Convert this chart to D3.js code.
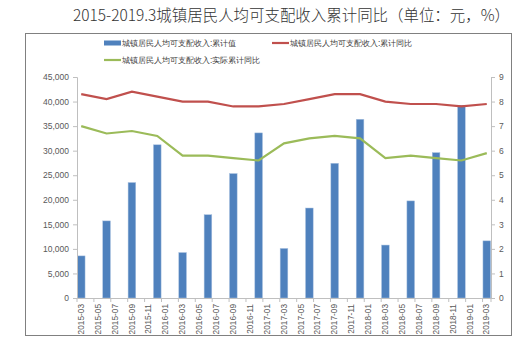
<!DOCTYPE html>
<html>
<head>
<meta charset="utf-8">
<script src="https://cdn.jsdelivr.net/npm/d3@7"></script>
<style>
body { margin: 0; background: #fff; }
text { font-family: "Liberation Sans", Arial, sans-serif; }
.cjk { font-family: "Noto Sans CJK SC", sans-serif; }
</style>
</head>
<body>
<div id="chart-area"></div>
<script>
// chart size
var width = 528,
	height = 362;

// quarters (month of each bar)
var quarters = ["2015-03","2015-06","2015-09","2015-12",
	"2016-03","2016-06","2016-09","2016-12",
	"2017-03","2017-06","2017-09","2017-12",
	"2018-03","2018-06","2018-09","2018-12",
	"2019-03"];
// 累计值 (元)
var cumValue = [8572, 15699, 23512, 31195, 9255, 16957, 25337, 33616,
	10096, 18322, 27430, 36396, 10781, 19770, 29599, 39251, 11633];
// 累计同比 (%)
var cumYoy = [8.3, 8.1, 8.4, 8.2, 8.0, 8.0, 7.8, 7.8,
	7.9, 8.1, 8.3, 8.3, 8.0, 7.9, 7.9, 7.8, 7.9];
// 实际累计同比 (%)
var realYoy = [7.0, 6.7, 6.8, 6.6, 5.8, 5.8, 5.7, 5.6,
	6.3, 6.5, 6.6, 6.5, 5.7, 5.8, 5.7, 5.6, 5.9];

var leftTicks = [0, 5000, 10000, 15000, 20000, 25000, 30000, 35000, 40000, 45000];
var rightTicks = [0, 1, 2, 3, 4, 5, 6, 7, 8, 9];
var seriesNames = ["城镇居民人均可支配收入:累计值", "城镇居民人均可支配收入:累计同比", "城镇居民人均可支配收入:实际累计同比"];
var title = "2015-2019.3城镇居民人均可支配收入累计同比（单位：元，%）";

var colors = {bar: "#4f81bd", red: "#c0504d", green: "#9bbb59"};

// every month on the date axis
var parseMonth = d3.timeParse("%Y-%m");
var fmt = d3.timeFormat("%Y-%m");
var months = d3.timeMonth.range(parseMonth("2015-03"), d3.timeMonth.offset(parseMonth("2019-03"), 1)).map(fmt);
// label every 2 months
var tickLabels = months.filter(function(d, i){ return i % 2 == 0; });

var svg = d3.select("#chart-area").append("svg")
	.attr("width", width)
	.attr("height", height);

// outer frame
svg.append("rect")
	.attr("x", 25.5).attr("y", 33.5)
	.attr("width", 486).attr("height", 302)
	.attr("fill", "none")
	.attr("stroke", "#808080")
	.attr("stroke-width", 1);

// title
svg.append("text")
	.attr("class", "cjk")
	.attr("x", 73)
	.attr("y", 21)
	.attr("textLength", 437)
	.attr("lengthAdjust", "spacingAndGlyphs")
	.attr("font-size", "15.5px")
	.attr("font-weight", 300)
	.attr("fill", "#333")
	.text(title);

var plot = {left: 77, right: 491, top: 77, bottom: 298};

var x = d3.scaleBand()
	.domain(months)
	.range([plot.left, plot.right])
	.padding(0);

var yLeft = d3.scaleLinear()
	.domain([0, 45000])
	.range([plot.bottom, plot.top]);

var yRight = d3.scaleLinear()
	.domain([0, 9])
	.range([plot.bottom, plot.top]);

// bars
svg.append("g").selectAll("rect")
	.data(quarters)
	.enter()
	.append("rect")
	.attr("x", function(d){ return x(d) + 0.4; })
	.attr("width", x.bandwidth() - 0.8)
	.attr("y", function(d, i){ return yLeft(cumValue[i]); })
	.attr("height", function(d, i){ return plot.bottom - yLeft(cumValue[i]); })
	.attr("fill", colors.bar)
	.attr("stroke", "#a9c2e0")
	.attr("stroke-width", 0.5);

// lines
var line = d3.line()
	.x(function(d){ return x(d[0]) + x.bandwidth() / 2; })
	.y(function(d){ return yRight(d[1]); });

svg.append("path")
	.datum(quarters.map(function(q, i){ return [q, cumYoy[i]]; }))
	.attr("d", line)
	.attr("fill", "none")
	.attr("stroke", colors.red)
	.attr("stroke-width", 2.2);

svg.append("path")
	.datum(quarters.map(function(q, i){ return [q, realYoy[i]]; }))
	.attr("d", line)
	.attr("fill", "none")
	.attr("stroke", colors.green)
	.attr("stroke-width", 2.2);

// axes
var yAxisL = d3.axisLeft(yLeft)
	.tickValues(leftTicks)
	.tickSize(4)
	.tickPadding(4)
	.tickFormat(d3.format(","));
var yAxisR = d3.axisRight(yRight)
	.tickValues(rightTicks)
	.tickSize(4)
	.tickPadding(4);

var gl = svg.append("g")
	.attr("transform", "translate(" + plot.left + ",0)")
	.call(yAxisL);
var gr = svg.append("g")
	.attr("transform", "translate(" + plot.right + ",0)")
	.call(yAxisR);

[gl, gr].forEach(function(g){
	g.select(".domain").attr("stroke", "#bfbfbf");
	g.selectAll(".tick line").attr("stroke", "#bfbfbf");
	g.selectAll(".tick text")
		.attr("fill", "#595959")
		.attr("font-size", "8.5px")
		.attr("font-family", "'Liberation Sans', Arial, sans-serif");
});

// x axis: line, tick marks at start of every labeled slot, rotated labels
var xAxis = d3.axisBottom(x)
	.tickValues(tickLabels)
	.tickSize(0)
	.tickPadding(0);

var gx = svg.append("g")
	.attr("transform", "translate(0," + plot.bottom + ")")
	.call(xAxis);
gx.select(".domain").attr("stroke", "#bfbfbf");
gx.selectAll(".tick text")
	.attr("fill", "#595959")
	.attr("font-size", "8.3px")
	.attr("font-family", "'Liberation Sans', Arial, sans-serif")
	.attr("text-anchor", "end")
	.attr("dy", "0.32em")
	.attr("transform", "translate(0,6) rotate(-90)");

gx.selectAll(".slot-tick")
	.data(tickLabels.concat(["end"]))
	.enter()
	.append("line")
	.attr("class", "slot-tick")
	.attr("x1", function(d){ return d == "end" ? plot.right : x(d); })
	.attr("x2", function(d){ return d == "end" ? plot.right : x(d); })
	.attr("y1", 0)
	.attr("y2", 4)
	.attr("stroke", "#bfbfbf");

// legend
var legend = svg.append("g").attr("class", "cjk");
var legendItems = [
	{name: seriesNames[0], color: colors.bar, type: "rect", x: 104, y: 43},
	{name: seriesNames[1], color: colors.red, type: "line", x: 272, y: 43},
	{name: seriesNames[2], color: colors.green, type: "line", x: 104, y: 60}
];
legendItems.forEach(function(d){
	if (d.type == "rect") {
		legend.append("rect")
			.attr("x", d.x).attr("y", d.y - 2.5)
			.attr("width", 17).attr("height", 5)
			.attr("fill", d.color);
	} else {
		legend.append("line")
			.attr("x1", d.x).attr("x2", d.x + 17)
			.attr("y1", d.y).attr("y2", d.y)
			.attr("stroke", d.color)
			.attr("stroke-width", 2.2);
	}
	legend.append("text")
		.attr("x", d.x + 18)
		.attr("y", d.y)
		.attr("dy", "0.35em")
		.attr("font-size", "8.3px")
		.attr("fill", "#404040")
		.text(d.name);
});
</script>
</body>
</html>
